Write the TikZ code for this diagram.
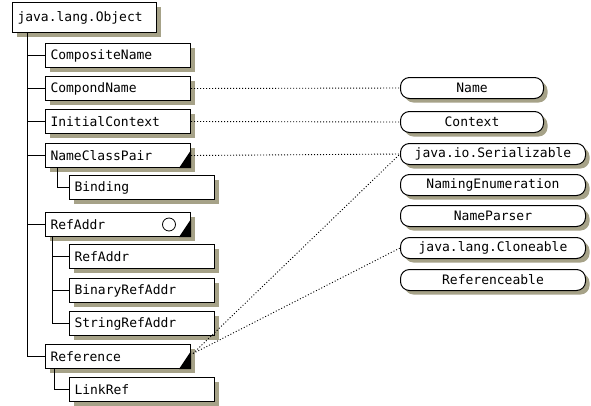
\documentclass[tikz,border=0pt]{standalone}
\usepackage{fontspec}
\setmonofont{DejaVu Sans Mono}
\usetikzlibrary{shadows,calc}
\definecolor{shade}{HTML}{A6A288}
\begin{document}
\begin{tikzpicture}[x=1pt,y=-1pt,
  shd/.style={drop shadow={shadow xshift=4pt, shadow yshift=-4pt, fill=shade, opacity=1}},
  box/.style={draw, line width=1pt, fill=white, anchor=north west, minimum height=24pt,
    text width=135pt, inner xsep=5pt, inner ysep=0pt, align=left,
    font=\ttfamily\fontsize{13}{13}\selectfont, shd},
  iface/.style={draw, line width=1pt, fill=white, anchor=north west, rounded corners=9pt,
    minimum height=21pt, inner sep=0pt, font=\ttfamily\fontsize{13}{13}\selectfont, shd},
  tree/.style={line width=1pt},
  dot/.style={line width=0.9pt, dash pattern=on 1pt off 2pt}]
\useasboundingbox (0,0) rectangle (591,405);
% classes
\node[box, text width=134pt, minimum height=30pt] (obj) at (12,2) {java.lang.Object};
\node[box] (cn) at (45,43) {CompositeName};
\node[box] (cpn) at (45,76) {CompondName};
\node[box] (ic) at (45,109) {InitialContext};
\node[box] (ncp) at (45,143) {NameClassPair};
\node[box] (bind) at (69,175) {Binding};
\node[box] (ra) at (45,212) {RefAddr};
\node[box] (ra2) at (69,244) {RefAddr};
\node[box] (bra) at (69,278) {BinaryRefAddr};
\node[box] (sra) at (69,311) {StringRefAddr};
\node[box] (ref) at (45,344) {Reference};
\node[box] (lr) at (69,377) {LinkRef};
% interfaces
\node[iface, minimum width=143pt] (name) at (400,77) {Name};
\node[iface, minimum width=143pt] (ctx) at (400,111) {Context};
\node[iface, minimum width=185pt] (ser) at (400,143) {java.io.Serializable};
\node[iface, minimum width=185pt] (ne) at (400,174) {NamingEnumeration};
\node[iface, minimum width=185pt] (np) at (400,205) {NameParser};
\node[iface, minimum width=185pt] (clo) at (400,237) {java.lang.Cloneable};
\node[iface, minimum width=185pt] (refa) at (400,269) {Referenceable};
% tree
\coordinate (t0) at ($(obj.south west)+(15pt,0)$);
\draw[tree] (t0) |- (ref.west);
\foreach \n in {cn,cpn,ic,ncp,ra} \draw[tree] (t0 |- \n.west) -- (\n.west);
\coordinate (b0) at ($(ncp.south west)+(12pt,0)$);
\draw[tree] (b0) |- (bind.west);
\coordinate (r0) at ($(ra.south west)+(7pt,0)$);
\draw[tree] (r0) |- (sra.west);
\draw[tree] (r0 |- ra2.west) -- (ra2.west);
\draw[tree] (r0 |- bra.west) -- (bra.west);
\coordinate (l0) at ($(ref.south west)+(9pt,0)$);
\draw[tree] (l0) |- (lr.west);
% marks
\foreach \n in {ncp,ra,ref}
  \fill (\n.south east) -- ++(0pt,18pt) -- ++(-12pt,-18pt) -- cycle;
\draw[line width=0.8pt, fill=white] ($(ra.east)+(-22pt,0)$) circle (6.5pt);
% implements
\draw[dot] (cpn.east) -- (name.west);
\draw[dot] (ic.east) -- (ctx.west);
\draw[dot] (ncp.east) -- (ser.west);
\coordinate (rc) at ($(ref.east)+(2pt,3pt)$);
\draw[dot] (rc) -- (ser.west);
\draw[dot] (rc) -- (clo.west);
\end{tikzpicture}
\end{document}
